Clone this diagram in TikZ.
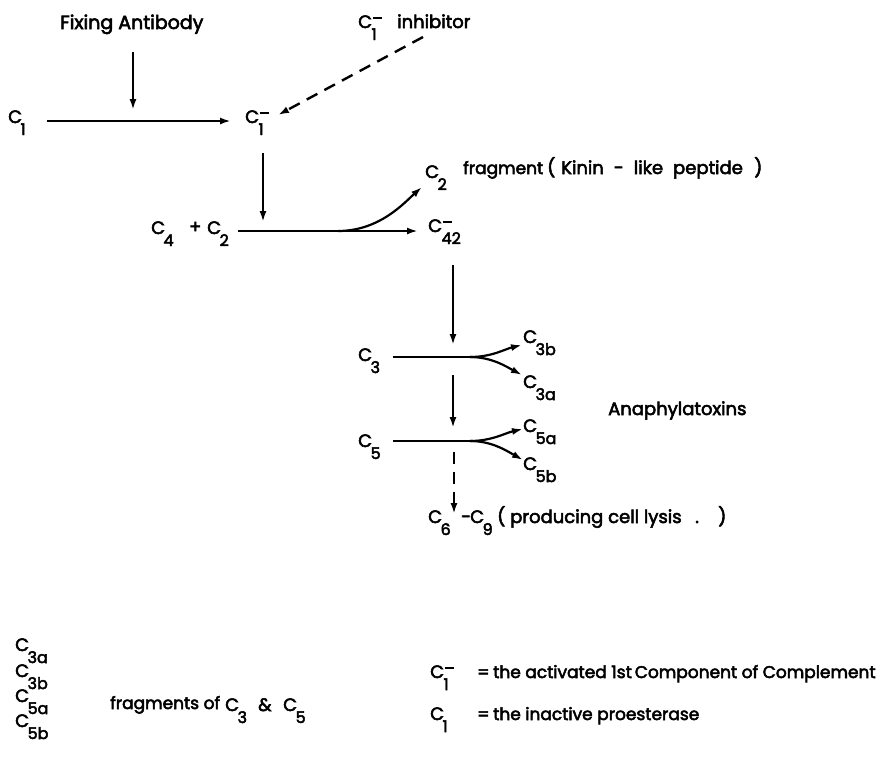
\documentclass[tikz,border=0pt]{standalone}
\usepackage{fontspec}
\setmainfont{Poppins}[FakeBold=3]
\usetikzlibrary{arrows.meta}
\newcommand\subs[1]{\raisebox{-12pt}{\fontsize{16}{16}\selectfont #1}}
\newcommand\Cs[1]{C\kern-1.5pt\subs{#1}}
\newcommand\Cb[1]{C\kern0.5pt\rlap{\raisebox{9pt}{\rule{9pt}{2.2pt}}}\kern-1pt\subs{#1}}
\begin{document}
\begin{tikzpicture}[x=1pt,y=-1pt,
  every node/.style={inner sep=0pt, anchor=base west, font=\fontsize{18}{21}\selectfont},
  sm/.style={font=\fontsize{17}{21}\selectfont},
  arr/.style={line width=2.2pt, -{Latex[length=11pt,width=7pt]}},
  dsh/.style={arr, line width=2.4pt, dash pattern=on 12pt off 8pt},
  ln/.style={line width=2.2pt}]
\useasboundingbox (0,0) rectangle (885,764);
% labels
\node[font=\fontsize{19}{21}\selectfont] (fix) at (60,29) {Fixing Antibody};
\node (inh) at (358,28) {\Cb{1}};
\node (inht) at (397,28) {inhibitor};
\node (c1) at (8,123) {\Cs{1}};
\node (c1b) at (245,123) {\Cb{1}};
\node (c4) at (151,234) {\Cs{4}};
\node (plus) at (189,233) {+};
\node (c2) at (207,234) {\Cs{2}};
\node (c2f) at (425,178) {\Cs{2}};
\node[sm] (frag) at (463,174) {fragment};
\node (kp1) at (547,174) {(};
\node (kp2) at (561,174) {Kinin\hspace{10pt}-\hspace{10pt}like\hspace{10pt}peptide};
\node (kp6) at (754,174) {)};
\node (c42) at (428,232) {\Cb{42}};
\node (c3) at (358,361) {\Cs{3}};
\node (c3b) at (523,343) {\Cs{3b}};
\node (c3a) at (523,388) {\Cs{3a}};
\node (ana) at (608,415) {Anaphylatoxins};
\node (c5) at (358,447) {\Cs{5}};
\node (c5a) at (523,432) {\Cs{5a}};
\node (c5b) at (523,470) {\Cs{5b}};
\node (c6) at (428,523) {\Cs{6}};
\node (dash) at (461,523) {-};
\node (c9) at (470,523) {\Cs{9}};
\node (lp1) at (497,523) {(};
\node (lp2) at (510,523) {producing cell lysis};
\node (lp3) at (695,523) {.};
\node (lp4) at (718,523) {)};
\node (l3a) at (15,651) {\Cs{3a}};
\node (l3b) at (15,677) {\Cs{3b}};
\node (l5a) at (15,702) {\Cs{5a}};
\node (l5b) at (15,727) {\Cs{5b}};
\node[sm] (fr) at (110,709) {fragments of};
\node (f3) at (225,711) {\Cs{3}};
\node (amp) at (258,711) {\&};
\node (f5) at (283,711) {\Cs{5}};
\node (d1) at (430,678) {\Cb{1}};
\node[sm] (e1) at (477,678) {=};
\node[sm] (t1) at (493,678) {the activated 1st\hspace{3pt}Component of Complement};
\node (d2) at (430,720) {\Cs{1}};
\node[sm] (e2) at (477,720) {=};
\node[sm] (t2x) at (493,720) {the inactive proesterase};
% coordinates
\coordinate (fa1) at (133,52); \coordinate (fa2) at (133,110);
\coordinate (h1a) at (47,121); \coordinate (h1b) at (231,121);
\coordinate (ia) at (423,37); \coordinate (ib) at (278,115);
\coordinate (v1a) at (263,153); \coordinate (v1b) at (263,222);
\coordinate (h2a) at (238,231); \coordinate (h2b) at (418,231);
\coordinate (br2) at (338,231); \coordinate (t2) at (422,187);
\coordinate (v2a) at (453,265); \coordinate (v2b) at (453,345);
\coordinate (h3a) at (393,357); \coordinate (br3) at (470,357);
\coordinate (t3b) at (522,345); \coordinate (t3a) at (522,375);
\coordinate (v3a) at (453,375); \coordinate (v3b) at (453,428);
\coordinate (h5a) at (393,441); \coordinate (br5) at (470,441);
\coordinate (t5a) at (523,429); \coordinate (t5b) at (523,460);
\coordinate (v5a) at (454,452); \coordinate (v5b) at (454,514);
% connectors
\draw[arr] (fa1) -- (fa2);
\draw[arr] (h1a) -- (h1b);
\draw[dsh] (ia) -- (ib);
\draw[arr] (v1a) -- (v1b);
\draw[arr] (h2a) -- (h2b);
\draw[arr] (br2) .. controls (380,231) and (405,202) .. (t2);
\draw[arr] (v2a) -- (v2b);
\draw[ln] (h3a) -- (br3);
\draw[arr] (br3) .. controls (492,357) and (505,349) .. (t3b);
\draw[arr] (br3) .. controls (492,357) and (507,367) .. (t3a);
\draw[arr] (v3a) -- (v3b);
\draw[ln] (h5a) -- (br5);
\draw[arr] (br5) .. controls (492,441) and (505,433) .. (t5a);
\draw[arr] (br5) .. controls (492,441) and (507,451) .. (t5b);
\draw[dsh] (v5a) -- (v5b);
\end{tikzpicture}
\end{document}
